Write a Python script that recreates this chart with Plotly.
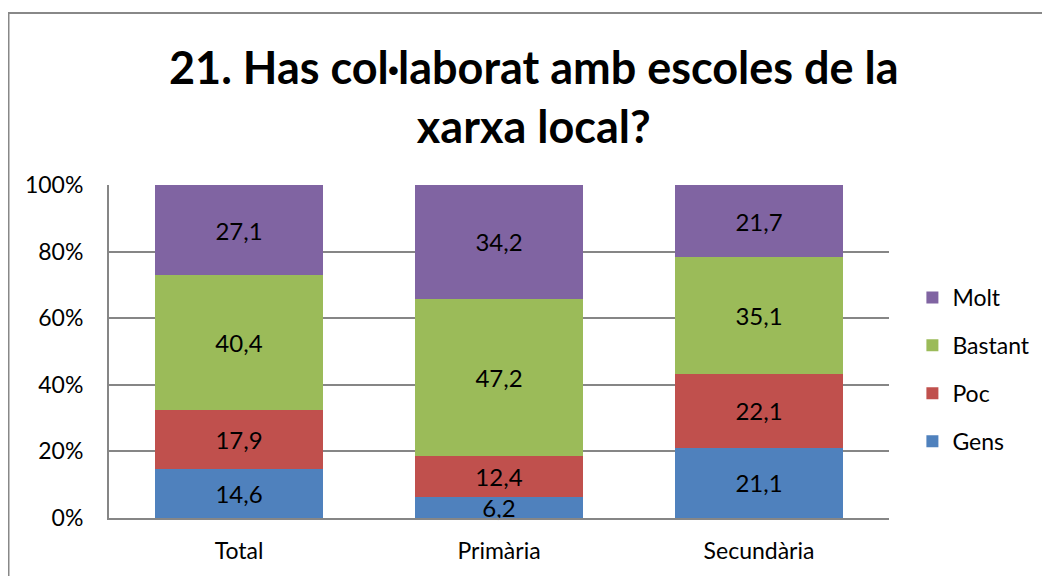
import plotly.graph_objects as go

categories = ["Total", "Primària", "Secundària"]
series_names = ["Gens", "Poc", "Bastant", "Molt"]
gens = [14.6, 6.2, 21.1]
poc = [17.9, 12.4, 22.1]
bastant = [40.4, 47.2, 35.1]
molt = [27.1, 34.2, 21.7]
colors = ["#4F81BD", "#C0504D", "#9BBB59", "#8064A2"]
legend_ranks = [4, 3, 2, 1]
y_ticks = [0, 20, 40, 60, 80, 100]
y_tick_labels = ["0%", "20%", "40%", "60%", "80%", "100%"]

FONT = "Lato"
OFF = 8  # page body margin
W, H = 1050 - OFF, 576 - OFF
L, R, T, B = 109 - OFF, 161, 185 - OFF, 58

fig = go.Figure()
for name, vals, col, rk in zip(series_names, [gens, poc, bastant, molt], colors, legend_ranks):
    fig.add_trace(go.Bar(
        x=categories, y=vals, name=name, marker=dict(color=col, line=dict(width=0)),
        text=[f"{v:.1f}".replace(".", ",") for v in vals],
        textposition="inside", insidetextanchor="middle", textangle=0,
        constraintext="none", cliponaxis=False,
        textfont=dict(family=FONT, size=24, color="black"),
        legendgroup=name, legendrank=rk,
    ))

pw = W - L - R
ph = H - T - B
def px_x(p):
    return (p - OFF - L) / pw
def px_y(p):
    return (H - B - (p - OFF)) / ph

fig.update_layout(
    width=W, height=H,
    margin=dict(l=L, r=R, t=T, b=B),
    barmode="stack", bargap=0.354,
    plot_bgcolor="white", paper_bgcolor="white",
    font=dict(family=FONT, size=23, color="black"),
    showlegend=True,
    legend=dict(traceorder="grouped", x=1.03, y=0.446, xanchor="left", yanchor="middle",
                font=dict(family=FONT, size=23, color="black"), tracegroupgap=15,
                itemwidth=30, bgcolor="rgba(0,0,0,0)"),
    xaxis=dict(showgrid=False, showline=True, linecolor="#868686", linewidth=2,
               ticks="", ticklabelstandoff=11, tickfont=dict(size=23)),
    yaxis=dict(range=[0, 100.0001], tickvals=y_ticks, ticktext=y_tick_labels,
               showgrid=True, gridcolor="#868686", gridwidth=2,
               showline=True, linecolor="#868686", linewidth=2, zeroline=False,
               ticks="", ticklabelstandoff=19, tickfont=dict(size=23)),
    annotations=[dict(
        text="<b>21. Has col·laborat amb escoles de la<br>xarxa local?</b>",
        xref="paper", yref="paper", x=px_x(534), y=px_y(97), xanchor="center", yanchor="middle",
        showarrow=False, font=dict(family=FONT, size=45, color="black"),
    )],
    shapes=[dict(type="rect", xref="paper", yref="paper",
                 x0=px_x(8.5), x1=px_x(1090), y0=px_y(640), y1=px_y(13),
                 line=dict(color="#888888", width=2), fillcolor="rgba(0,0,0,0)", layer="below")],
)

fig.write_html("out.html")
